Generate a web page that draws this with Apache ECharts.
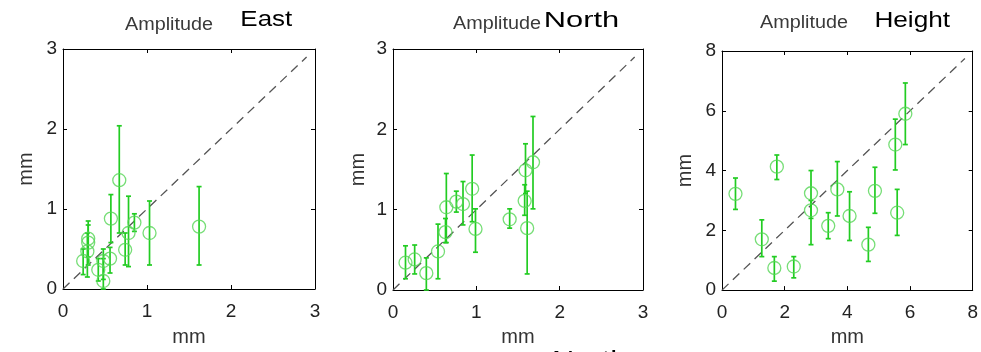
<!DOCTYPE html>
<html><head><meta charset="utf-8">
<script src="https://cdn.jsdelivr.net/npm/echarts@6/dist/echarts.min.js"></script>
<style>html,body{margin:0;padding:0;background:#fff}#c{width:981px;height:352px}</style>
</head><body><div id="c"></div>
<script>
// ---- East ----
const eastX  = [0.24,0.29,0.30,0.30,0.42,0.48,0.48,0.56,0.57,0.67,0.74,0.78,0.85,1.03,1.62];
const eastY  = [0.35,0.47,0.58,0.63,0.24,0.10,0.35,0.38,0.88,1.36,0.49,0.70,0.83,0.70,0.78];
const eastLo = [0.18,0.15,0.30,0.40,0.10,0.00,0.12,0.20,0.58,0.70,0.30,0.28,0.72,0.30,0.30];
const eastHi = [0.50,0.70,0.85,0.80,0.38,0.38,0.50,0.52,1.18,2.04,0.70,1.16,0.94,1.10,1.28];
// ---- North ----
const northX  = [0.15,0.26,0.40,0.54,0.63,0.64,0.76,0.84,0.95,0.99,1.40,1.59,1.58,1.61,1.68];
const northY  = [0.34,0.38,0.21,0.48,0.72,1.03,1.10,1.07,1.26,0.76,0.88,1.49,1.11,0.77,1.59];
const northLo = [0.14,0.20,0.00,0.14,0.59,0.59,0.97,0.81,0.85,0.47,0.77,1.20,0.93,0.20,1.01];
const northHi = [0.55,0.56,0.40,0.82,0.89,1.45,1.23,1.35,1.68,1.01,1.01,1.82,1.31,1.23,2.16];
// ---- Height ----
const heightX  = [0.43,1.27,1.67,1.75,2.29,2.84,2.84,3.39,3.68,4.07,4.67,4.88,5.53,5.59,5.85];
const heightY  = [3.22,1.70,0.74,4.13,0.79,3.24,2.67,2.15,3.37,2.48,1.52,3.32,4.87,2.59,5.90];
const heightLo = [2.70,1.12,0.30,3.70,0.41,2.40,1.52,1.72,2.48,1.66,0.96,2.57,4.02,1.83,4.87];
const heightHi = [3.75,2.35,1.12,4.52,1.12,4.00,3.00,2.59,4.30,3.29,2.10,4.11,5.72,3.37,6.93];
// ---- axes / titles ----
const panelNames = ['East','North','Height'];
const axisMax = [3,3,8];
const axisStep = [1,1,2];
const diagEnd = [2.9,2.9,7.75];
const subTitle = 'Amplitude';
const unitLabel = 'mm';

const series = [[eastX,eastY,eastLo,eastHi],[northX,northY,northLo,northHi],[heightX,heightY,heightLo,heightHi]];
const grids = [
  {left:63, top:49, width:252, height:246},
  {left:393, top:49, width:250, height:247},
  {left:722, top:51, width:252, height:245}
];
const FONT = 'Liberation Sans, Arial, sans-serif';
const barColor = '#22cc22';
const ringColor = '#55d655';

const xAxes = [], yAxes = [], allSeries = [];
const xNameGap = [38,37,34];
const yNameGap = [27,25,27];
for (let i = 0; i < 3; i++) {
  const base = {min:0, max:axisMax[i], interval:axisStep[i], gridIndex:i,
    axisLine:{show:true, onZero:false, lineStyle:{color:'#000', width:1}},
    axisTick:{show:true, inside:true, length:4, lineStyle:{color:'#000'}},
    splitLine:{show:false}};
  xAxes.push(Object.assign({}, base, {type:'value', position:'bottom',
    axisLabel:{show:true, color:'#222', fontSize:19, fontFamily:FONT, margin:13},
    name:unitLabel, nameLocation:'middle', nameGap:xNameGap[i],
    nameTextStyle:{color:'#333', fontSize:20, fontFamily:FONT}}));
  xAxes.push(Object.assign({}, base, {type:'value', position:'top', axisLabel:{show:false}}));
  yAxes.push(Object.assign({}, base, {type:'value', position:'left',
    axisLabel:{show:true, color:'#222', fontSize:19, fontFamily:FONT, margin:6},
    name:unitLabel, nameLocation:'middle', nameGap:yNameGap[i], nameRotate:90,
    nameTextStyle:{color:'#333', fontSize:20, fontFamily:FONT}}));
  yAxes.push(Object.assign({}, base, {type:'value', position:'right', axisLabel:{show:false}}));

  const [xs, ys, los, his] = series[i];
  allSeries.push({
    type:'line', xAxisIndex:2*i, yAxisIndex:2*i, symbol:'none', silent:true,
    data:[[0,0],[diagEnd[i],diagEnd[i]]],
    lineStyle:{color:'#555', width:1.3, type:[9,6]}, z:1
  });
  allSeries.push({
    type:'custom', xAxisIndex:2*i, yAxisIndex:2*i, silent:true, z:2,
    data: xs.map((x,k)=>[x, los[k], his[k]]),
    encode:{x:0, y:[1,2]},
    renderItem:function(params, api){
      const x = api.value(0), lo = api.value(1), hi = api.value(2);
      const a = api.coord([x, hi]), b = api.coord([x, lo]);
      const w = 2.5;
      const st = {stroke:barColor, lineWidth:1.7};
      return {type:'group', children:[
        {type:'line', shape:{x1:a[0], y1:a[1], x2:b[0], y2:b[1]}, style:st},
        {type:'line', shape:{x1:a[0]-w, y1:a[1], x2:a[0]+w, y2:a[1]}, style:st},
        {type:'line', shape:{x1:b[0]-w, y1:b[1], x2:b[0]+w, y2:b[1]}, style:st}
      ]};
    }
  });
  allSeries.push({
    type:'scatter', xAxisIndex:2*i, yAxisIndex:2*i, silent:true, z:3,
    symbol:'circle', symbolSize:13,
    data: xs.map((x,k)=>[x, ys[k]]),
    itemStyle:{color:'rgba(0,0,0,0)', borderColor:ringColor, borderWidth:1.3}
  });
}

const ampPos = [[125,25],[453,24.5],[760,23.5]];
const namePos = [[238,19.5],[541,20.5],[872,20.5]];
const nameScale = [1.18,1.4,1.19];
const graphics = [];
for (let i = 0; i < 3; i++) {
  graphics.push({type:'text', x:ampPos[i][0], y:ampPos[i][1], scaleX:1.1, z:10,
    style:{text:subTitle, x:0, y:0, fill:'#3a3a3a', font:'18px ' + FONT, textAlign:'left', textVerticalAlign:'middle'}});
  graphics.push({type:'text', x:namePos[i][0], y:namePos[i][1], scaleX:nameScale[i], z:11,
    style:{text:panelNames[i], x:0, y:0, fill:'#000', font:'22px ' + FONT, textAlign:'left', textVerticalAlign:'middle',
      backgroundColor:'#fff', padding:[0,0,0,2]}});
}
graphics.push({type:'text', x:552, y:360, scaleX:1.4, z:11,
  style:{text:panelNames[1], x:0, y:0, fill:'#000', font:'22px ' + FONT, textAlign:'left', textVerticalAlign:'middle'}});

const chart = echarts.init(document.getElementById('c'), null, {renderer:'canvas'});
chart.setOption({
  animation:false,
  backgroundColor:'#fff',
  grid:grids,
  xAxis:xAxes,
  yAxis:yAxes,
  series:allSeries,
  graphic:graphics
});
</script>
</body></html>
